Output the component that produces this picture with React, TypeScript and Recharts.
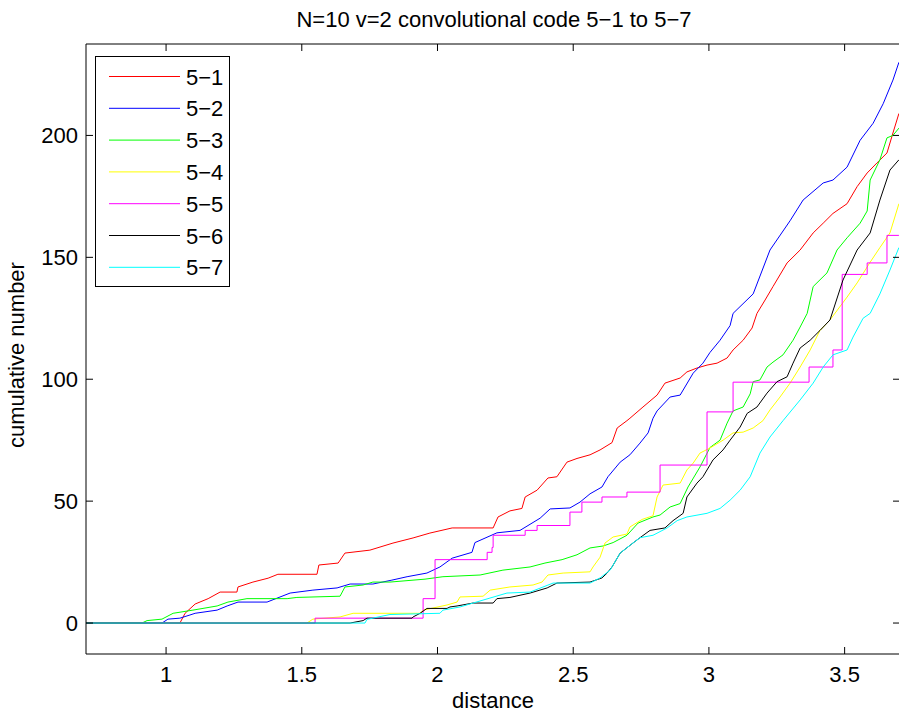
import { LineChart, Line, XAxis, YAxis, Legend } from "recharts";

// series 5-1 .. 5-7
const x51 = [0.705, 1.051, 1.07, 1.107, 1.155, 1.199, 1.261, 1.265, 1.32, 1.376, 1.412, 1.556, 1.563, 1.634, 1.659, 1.751, 1.836, 1.91, 1.972, 2.054, 2.205, 2.223, 2.267, 2.311, 2.323, 2.367, 2.407, 2.44, 2.477, 2.514, 2.562, 2.599, 2.643, 2.662, 2.698, 2.709, 2.757, 2.809, 2.838, 2.894, 2.919, 2.956, 2.993, 3.03, 3.067, 3.089, 3.126, 3.159, 3.177, 3.207, 3.236, 3.288, 3.336, 3.384, 3.421, 3.457, 3.509, 3.546, 3.583, 3.619, 3.656, 3.678, 3.7];
const y51 = [0, 0, 4, 7.8, 10, 12.7, 12.7, 14.8, 16.8, 18.4, 20, 20, 23.8, 24.6, 28.7, 29.9, 32.8, 34.9, 36.9, 39, 39, 43.5, 46, 47, 51.7, 54.5, 59.5, 60, 66, 67.5, 69, 71, 74, 80, 83, 84, 88.6, 93.5, 98.4, 100.5, 103, 104.6, 105.8, 106.6, 108.7, 112, 116, 121, 127, 132.5, 138, 147.7, 153, 160, 164, 168, 172, 179, 184.6, 188.7, 192.8, 201, 209];

const x52 = [0.705, 0.985, 1.007, 1.051, 1.088, 1.107, 1.188, 1.225, 1.265, 1.372, 1.457, 1.541, 1.63, 1.678, 1.762, 1.832, 1.888, 1.961, 2.009, 2.054, 2.127, 2.138, 2.219, 2.304, 2.378, 2.415, 2.488, 2.525, 2.562, 2.606, 2.628, 2.673, 2.709, 2.746, 2.776, 2.794, 2.809, 2.857, 2.894, 2.942, 2.978, 3.004, 3.041, 3.078, 3.089, 3.163, 3.225, 3.299, 3.347, 3.421, 3.457, 3.509, 3.557, 3.605, 3.642, 3.678, 3.7];
const y52 = [0, 0, 1.6, 2, 3.3, 4, 5.3, 7, 8.6, 8.6, 12.3, 13.5, 14.4, 16, 16, 17.6, 19, 20.5, 23, 26.6, 29, 33, 37, 38, 43, 46.8, 47.2, 49.6, 53, 55.8, 60, 66, 69, 73.8, 78, 84, 87, 92.7, 93.5, 102.5, 106.6, 111, 116, 122, 127, 135, 153, 165, 173.5, 180.5, 181.7, 187, 198, 205, 213, 222.7, 230];

const x53 = [0.705, 0.911, 0.93, 0.985, 1.026, 1.099, 1.188, 1.228, 1.298, 1.446, 1.482, 1.641, 1.659, 1.726, 1.762, 1.825, 1.954, 2.02, 2.157, 2.241, 2.341, 2.396, 2.459, 2.514, 2.562, 2.61, 2.647, 2.698, 2.739, 2.794, 2.82, 2.857, 2.894, 2.923, 2.967, 3.004, 3.041, 3.067, 3.089, 3.126, 3.152, 3.163, 3.188, 3.214, 3.236, 3.273, 3.31, 3.336, 3.362, 3.384, 3.435, 3.472, 3.509, 3.557, 3.583, 3.594, 3.63, 3.656, 3.678, 3.7];
const y53 = [0, 0, 1, 1.6, 4, 5.3, 7, 8.6, 10, 10, 10.5, 11, 14.8, 15.6, 16.8, 16.8, 18, 19, 19.7, 21.7, 23, 24.6, 26, 28, 30.8, 31.6, 33, 36, 41, 43.5, 44.3, 47.6, 49, 55.8, 64, 72, 75, 82, 87, 88.6, 94, 99, 99.7, 105, 107, 110, 116, 121.4, 127, 138, 143.6, 153, 158, 164, 169, 181.7, 190, 199, 200, 203];

const x54 = [0.705, 1.519, 1.541, 1.641, 1.689, 1.936, 1.947, 2.035, 2.072, 2.083, 2.168, 2.194, 2.267, 2.352, 2.385, 2.407, 2.463, 2.562, 2.573, 2.599, 2.617, 2.647, 2.698, 2.709, 2.754, 2.794, 2.809, 2.831, 2.894, 2.919, 2.942, 2.967, 3.004, 3.052, 3.089, 3.126, 3.163, 3.199, 3.225, 3.262, 3.299, 3.336, 3.373, 3.409, 3.446, 3.509, 3.546, 3.594, 3.63, 3.667, 3.7];
const y54 = [0, 0, 1.6, 2.5, 4, 4, 5.3, 7.4, 8.6, 10.7, 11, 13.5, 14.8, 15.6, 16.8, 19.7, 20.5, 21, 23, 27, 32.8, 35.3, 36.5, 39.4, 42.5, 44, 51.7, 56.6, 57.4, 62.8, 65.6, 69.7, 71.8, 75, 78, 78.3, 80, 83, 87.4, 92.7, 98.4, 105, 112, 120, 124.3, 133.7, 139.5, 148, 154, 160, 172];

const x55 = [0.705, 1.549, 1.947, 1.991, 2.183, 2.201, 2.205, 2.323, 2.367, 2.488, 2.532, 2.606, 2.698, 2.82, 2.993, 3.089, 3.369, 3.457, 3.491, 3.583, 3.656, 3.7];
const y55 = [0, 2, 10, 26, 29, 31, 36, 38, 40, 45.5, 49.6, 51.7, 53.7, 64.8, 86.6, 98.8, 105, 112, 143, 147.7, 159, 159];

const x56 = [0.705, 1.678, 1.726, 1.74, 1.906, 1.91, 1.936, 1.961, 2.035, 2.046, 2.072, 2.131, 2.205, 2.219, 2.267, 2.341, 2.404, 2.44, 2.562, 2.606, 2.625, 2.643, 2.673, 2.72, 2.746, 2.783, 2.838, 2.868, 2.905, 2.919, 2.956, 2.978, 3.015, 3.052, 3.078, 3.115, 3.141, 3.177, 3.214, 3.251, 3.288, 3.31, 3.336, 3.373, 3.409, 3.446, 3.494, 3.546, 3.594, 3.63, 3.667, 3.7];
const y56 = [0, 0, 1, 2, 2, 2.5, 4, 6, 6, 6.6, 7, 8.2, 8.2, 10, 10.5, 12.3, 14.4, 16.4, 16.8, 18.5, 20.5, 23, 28.7, 32.8, 35, 38, 39, 42, 45, 51.7, 57.4, 60, 66.9, 71, 75, 80.4, 86, 88.6, 94.3, 99, 101, 106.6, 112.8, 116, 120, 124.3, 140.7, 153, 160, 173.5, 185.8, 190];

const x57 = [0.705, 1.733, 1.74, 1.825, 2.009, 2.02, 2.083, 2.131, 2.256, 2.341, 2.426, 2.562, 2.599, 2.636, 2.673, 2.72, 2.746, 2.794, 2.846, 2.883, 2.919, 2.993, 3.041, 3.078, 3.115, 3.152, 3.188, 3.225, 3.273, 3.336, 3.384, 3.421, 3.457, 3.509, 3.531, 3.568, 3.594, 3.63, 3.667, 3.7];
const y57 = [0, 0, 1.5, 3.5, 4, 5.3, 6.6, 8.2, 12.3, 12.7, 16.4, 16.4, 18.5, 21.7, 28.7, 32.8, 35, 36, 39, 42, 43.5, 45, 47, 50.4, 54.5, 60, 69.7, 76.3, 83, 91.5, 98.4, 105, 110, 112, 117.3, 125, 127, 135, 144.8, 154];

const names = ["5−1", "5−2", "5−3", "5−4", "5−5", "5−6", "5−7"];
const colors = ["#ff0000", "#0000ff", "#00ff00", "#ffff00", "#ff00ff", "#000000", "#00ffff"];
const xTicks = [1, 1.5, 2, 2.5, 3, 3.5];
const yTicks = [0, 50, 100, 150, 200];

const xDomain = [0.705, 3.704];
const yDomain = [-12.7, 237.5];

const toPts = (xs: number[], ys: number[]) => xs.map((x, i) => ({ x, y: ys[i] }));
const series = [
  toPts(x51, y51),
  toPts(x52, y52),
  toPts(x53, y53),
  toPts(x54, y54),
  toPts(x55, y55),
  toPts(x56, y56),
  toPts(x57, y57),
];

const FONT = "'Liberation Sans', Arial, Helvetica, sans-serif";
const FS = 22;
const TICK = 7;

const BottomTick = (p: any) => {
  const ay = p.y - 28;
  return (
    <g>
      <line x1={p.x} x2={p.x} y1={ay} y2={ay - TICK} stroke="#000" />
      <text x={p.x} y={p.y} textAnchor="middle" fontSize={FS} fontFamily={FONT} fill="#000">
        {p.payload.value}
      </text>
    </g>
  );
};

// top axis: tick text position sits on the axis line (tickSize/tickMargin 0)
const TopTick = (p: any) => (
  <line x1={p.x} x2={p.x} y1={p.y} y2={p.y + TICK} stroke="#000" />
);

const LeftTick = (p: any) => {
  const ax = p.x + 8;
  return (
    <g>
      <line x1={ax} x2={ax + TICK} y1={p.y} y2={p.y} stroke="#000" />
      <text x={p.x} y={p.y + 8} textAnchor="end" fontSize={FS} fontFamily={FONT} fill="#000">
        {p.payload.value}
      </text>
    </g>
  );
};

const RightTick = (p: any) => (
  <line x1={p.x} x2={p.x - TICK} y1={p.y} y2={p.y} stroke="#000" />
);

const LegendBox = (props: any) => {
  const items = props.payload || [];
  return (
    <svg width={135} height={231} style={{ display: "block" }}>
      <rect x={0.5} y={0.5} width={134} height={230} fill="#fff" stroke="#000" />
      {items.map((it: any, i: number) => {
        const cy = 20.5 + i * 31.8;
        return (
          <g key={i}>
            <line x1={14} x2={85} y1={cy} y2={cy} stroke={it.color} />
            <text x={91} y={cy + 8} fontSize={FS} fontFamily={FONT} fill="#000">
              {it.value}
            </text>
          </g>
        );
      })}
    </svg>
  );
};

export default function App() {
  return (
    <div style={{ position: "absolute", left: 0, top: 0, width: 899, height: 715, overflow: "hidden", background: "#fff" }}>
      <LineChart width={901} height={715} margin={{ top: 43, right: 0, bottom: 0, left: 0 }}>
        <XAxis
          xAxisId="b"
          type="number"
          dataKey="x"
          domain={xDomain}
          ticks={xTicks}
          allowDataOverflow
          height={61}
          tickSize={0}
          tickMargin={28}
          tick={<BottomTick />}
          axisLine={{ stroke: "#000" }}
          tickLine={false}
        />
        <XAxis
          xAxisId="t"
          orientation="top"
          type="number"
          dataKey="x"
          domain={xDomain}
          ticks={xTicks}
          allowDataOverflow
          height={1}
          tickSize={0}
          tickMargin={0}
          tick={<TopTick />}
          axisLine={{ stroke: "#000" }}
          tickLine={false}
        />
        <YAxis
          yAxisId="l"
          type="number"
          domain={yDomain}
          ticks={yTicks}
          allowDataOverflow
          width={86}
          tickSize={0}
          tickMargin={8}
          tick={<LeftTick />}
          axisLine={{ stroke: "#000" }}
          tickLine={false}
        />
        <YAxis
          yAxisId="r"
          orientation="right"
          type="number"
          domain={yDomain}
          ticks={yTicks}
          allowDataOverflow
          width={1}
          tickSize={0}
          tickMargin={0}
          tick={<RightTick />}
          axisLine={{ stroke: "#000" }}
          tickLine={false}
        />
        <Legend
          layout="vertical"
          align="center"
          verticalAlign="middle"
          content={<LegendBox />}
          wrapperStyle={{ position: "absolute", left: 95, top: 56, width: 135, height: 231 }}
        />
        {series.map((d, i) => (
          <Line
            key={names[i]}
            data={d}
            dataKey="y"
            name={names[i]}
            xAxisId="b"
            yAxisId="l"
            type={i === 4 ? "stepAfter" : "linear"}
            stroke={colors[i]}
            strokeWidth={1}
            dot={false}
            isAnimationActive={false}
          />
        ))}
      </LineChart>
      <svg width={899} height={715} style={{ position: "absolute", left: 0, top: 0, pointerEvents: "none" }}>
        <text x={494} y={27} textAnchor="middle" fontSize={FS} fontFamily={FONT} fill="#000">
          N=10 v=2 convolutional code 5−1 to 5−7
        </text>
        <text x={493} y={708} textAnchor="middle" fontSize={FS} fontFamily={FONT} fill="#000">
          distance
        </text>
        <text x={24} y={355} textAnchor="middle" fontSize={FS} fontFamily={FONT} fill="#000" transform="rotate(-90 24 355)">
          cumulative number
        </text>
      </svg>
    </div>
  );
}
